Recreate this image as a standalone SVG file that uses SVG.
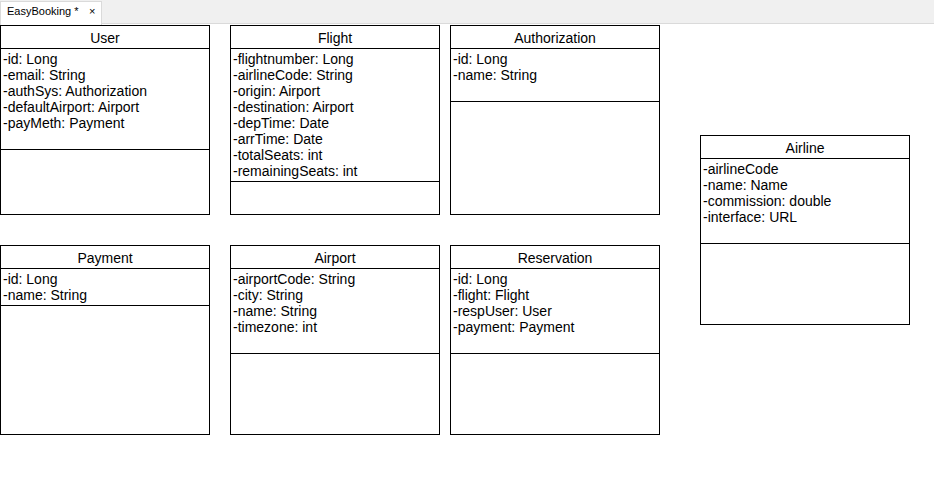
<svg xmlns="http://www.w3.org/2000/svg" width="934" height="482" viewBox="0 0 934 482">
<style>
.box{fill:#fff;stroke:#000;stroke-width:1}
.ln{stroke:#000;stroke-width:1}
.t{font-family:"Liberation Sans",Arial,sans-serif;font-size:14px;fill:#000}
.h{text-anchor:middle}
.tab{font-family:"Liberation Sans",Arial,sans-serif;font-size:11px;fill:#000}
</style>
<rect x="0" y="0" width="934" height="482" fill="#fff"/>
<g id="tabbar">
<rect x="0" y="0" width="934" height="23" fill="#f0f0f0"/>
<line x1="0" y1="23.5" x2="934" y2="23.5" stroke="#dadada"/>
<rect x="0.5" y="1.5" width="101" height="23" fill="#fff" stroke="#dadada"/>
<rect x="1" y="2" width="100" height="23" fill="#fff"/>
<text class="tab" x="7" y="15">EasyBooking *</text>
<text class="tab" x="89" y="15" font-size="10">×</text>
</g>
<g id="connectors"></g>
<g id="User">
<rect class="box" x="0.5" y="25.5" width="209" height="189"/>
<line class="ln" x1="0.5" y1="48.5" x2="209.5" y2="48.5"/>
<line class="ln" x1="0.5" y1="149.5" x2="209.5" y2="149.5"/>
<text class="t h" x="105" y="43">User</text>
<text class="t" x="3" y="64">-id: Long</text>
<text class="t" x="3" y="80">-email: String</text>
<text class="t" x="3" y="96">-authSys: Authorization</text>
<text class="t" x="3" y="112">-defaultAirport: Airport</text>
<text class="t" x="3" y="128">-payMeth: Payment</text>
</g>
<g id="Flight">
<rect class="box" x="230.5" y="25.5" width="209" height="189"/>
<line class="ln" x1="230.5" y1="48.5" x2="439.5" y2="48.5"/>
<line class="ln" x1="230.5" y1="181.5" x2="439.5" y2="181.5"/>
<text class="t h" x="335" y="43">Flight</text>
<text class="t" x="233" y="64">-flightnumber: Long</text>
<text class="t" x="233" y="80">-airlineCode: String</text>
<text class="t" x="233" y="96">-origin: Airport</text>
<text class="t" x="233" y="112">-destination: Airport</text>
<text class="t" x="233" y="128">-depTime: Date</text>
<text class="t" x="233" y="144">-arrTime: Date</text>
<text class="t" x="233" y="160">-totalSeats: int</text>
<text class="t" x="233" y="176">-remainingSeats: int</text>
</g>
<g id="Authorization">
<rect class="box" x="450.5" y="25.5" width="209" height="189"/>
<line class="ln" x1="450.5" y1="48.5" x2="659.5" y2="48.5"/>
<line class="ln" x1="450.5" y1="101.5" x2="659.5" y2="101.5"/>
<text class="t h" x="555" y="43">Authorization</text>
<text class="t" x="453" y="64">-id: Long</text>
<text class="t" x="453" y="80">-name: String</text>
</g>
<g id="Airline">
<rect class="box" x="700.5" y="135.5" width="209" height="189"/>
<line class="ln" x1="700.5" y1="158.5" x2="909.5" y2="158.5"/>
<line class="ln" x1="700.5" y1="243.5" x2="909.5" y2="243.5"/>
<text class="t h" x="805" y="153">Airline</text>
<text class="t" x="703" y="174">-airlineCode</text>
<text class="t" x="703" y="190">-name: Name</text>
<text class="t" x="703" y="206">-commission: double</text>
<text class="t" x="703" y="222">-interface: URL</text>
</g>
<g id="Payment">
<rect class="box" x="0.5" y="245.5" width="209" height="189"/>
<line class="ln" x1="0.5" y1="268.5" x2="209.5" y2="268.5"/>
<line class="ln" x1="0.5" y1="305.5" x2="209.5" y2="305.5"/>
<text class="t h" x="105" y="263">Payment</text>
<text class="t" x="3" y="284">-id: Long</text>
<text class="t" x="3" y="300">-name: String</text>
</g>
<g id="Airport">
<rect class="box" x="230.5" y="245.5" width="209" height="189"/>
<line class="ln" x1="230.5" y1="268.5" x2="439.5" y2="268.5"/>
<line class="ln" x1="230.5" y1="353.5" x2="439.5" y2="353.5"/>
<text class="t h" x="335" y="263">Airport</text>
<text class="t" x="233" y="284">-airportCode: String</text>
<text class="t" x="233" y="300">-city: String</text>
<text class="t" x="233" y="316">-name: String</text>
<text class="t" x="233" y="332">-timezone: int</text>
</g>
<g id="Reservation">
<rect class="box" x="450.5" y="245.5" width="209" height="189"/>
<line class="ln" x1="450.5" y1="268.5" x2="659.5" y2="268.5"/>
<line class="ln" x1="450.5" y1="353.5" x2="659.5" y2="353.5"/>
<text class="t h" x="555" y="263">Reservation</text>
<text class="t" x="453" y="284">-id: Long</text>
<text class="t" x="453" y="300">-flight: Flight</text>
<text class="t" x="453" y="316">-respUser: User</text>
<text class="t" x="453" y="332">-payment: Payment</text>
</g>
</svg>
